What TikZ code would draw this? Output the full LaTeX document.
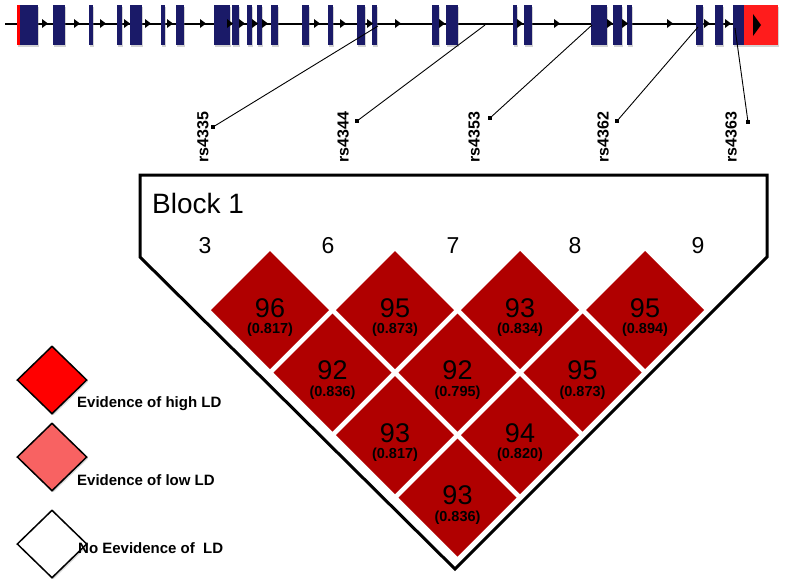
\documentclass[tikz,border=0pt]{standalone}
\usepackage{fontspec}
\setmainfont{Liberation Sans}
\usetikzlibrary{positioning}
\usetikzlibrary{shapes.geometric}
\usetikzlibrary{shadows}
\definecolor{exonblue}{RGB}{26,26,104}
\definecolor{utrred}{RGB}{255,28,28}
\definecolor{cellred}{RGB}{176,0,0}
\definecolor{lowred}{RGB}{248,98,98}
\tikzset{exon/.style = {fill=exonblue, drop shadow={shadow xshift=1pt, shadow yshift=-2pt, opacity=0.35}}}
\tikzset{snpdot/.style = {fill, rectangle, inner sep = 0, minimum size = 3.5}}
\tikzset{snpline/.style = {line width = 0.9}}
\tikzset{snplabel/.style = {rotate = 90, anchor = west, inner sep = 0, font = \bfseries\fontsize{16}{16}\selectfont}}
\tikzset{colnum/.style = {inner sep = 0, font = \fontsize{23}{23}\selectfont}}
\tikzset{ldnum/.style = {inner sep = 0, font = \fontsize{27}{27}\selectfont}}
\tikzset{ldrsq/.style = {inner sep = 0, font = \bfseries\fontsize{14.5}{14.5}\selectfont}}
\tikzset{legdiam/.style = {diamond, draw, line width = 1.5, inner sep = 0, minimum width = 70, minimum height = 68,
                           drop shadow={shadow xshift=1.5pt, shadow yshift=-1.5pt, opacity=0.3}}}
\tikzset{legtext/.style = {anchor = west, inner sep = 0, font = \bfseries\fontsize{15}{15}\selectfont}}

\begin{document}
\begin{tikzpicture}[x=1pt, y=-1pt]
      \useasboundingbox (0, 0) rectangle (786, 582);
      % gene
      \draw [line width = 2] (5, 23.5) -- (744, 23.5);
      \foreach \a/\b in {17/38, 53/65, 89/93, 117/122, 130/142, 161/165, 176/184, 214/230, 232/239, 247/252,
                         257/262, 271/278, 302/309, 328/333, 357/365, 372/377, 432/439, 446/458, 513/517, 524/532,
                         591/607, 613/622, 627/632, 696/703, 715/723, 733/744}
        \fill [exon] (\a, 5) rectangle (\b, 45);
      \fill [red] (17, 5) rectangle (20, 45);
      \fill [utrred, drop shadow={shadow xshift=1pt, shadow yshift=-2pt, opacity=0.35}] (744, 5) rectangle (778, 45);
      \fill (753, 14) -- (761, 25) -- (753, 36) -- cycle;
      \foreach \p in {45, 77, 103, 127, 148, 170, 203, 230, 242, 255, 265, 317, 343, 370,
                      398, 442, 520, 557, 610, 625, 670, 707, 728}
        \fill (\p - 3, 19) -- (\p + 3, 23.5) -- (\p - 3, 28) -- cycle;

      % snps
      \foreach \s/\gx/\gy/\dx/\dy/\lx in {4335/378/26/213/127/203, 4344/485/25/357/121/343, 4353/592/25/490/118/474,
                                          4362/698/27/617/121/603, 4363/735/28/748/122/731} {
        \coordinate (g\s) at (\gx, \gy);
        \node [snpdot] (d\s) at (\dx, \dy) {};
        \draw [snpline] (g\s) -- (d\s);
        \node [snplabel] (lab\s) at (\lx, 163) {rs\s};
      }

      % block
      \draw [line width = 3, line join = miter] (140, 175) -- (767, 175) -- (767, 257) -- (455, 569) -- (140, 257) -- cycle;
      \node [anchor = base west, inner sep = 0, font = \fontsize{28}{28}\selectfont] (block) at (152, 213) {Block 1};
      \foreach \n/\x in {3/205, 6/328, 7/453, 8/575, 9/698}
        \node [colnum] (c\n) at (\x, 246) {\n};

      % ld cells
      \foreach \i/\j/\num/\rsq in {0/0/96/0.817, 0/1/95/0.873, 0/2/93/0.834, 0/3/95/0.894, 1/0/92/0.836,
                                   1/1/92/0.795, 1/2/95/0.873, 2/0/93/0.817, 2/1/94/0.820, 3/0/93/0.836} {
        \pgfmathsetmacro\cx{270 + 125*\j + 62.5*\i}
        \pgfmathsetmacro\cy{310 + 62.5*\i}
        \fill [cellred] (\cx - 59, \cy) -- (\cx, \cy - 59) -- (\cx + 59, \cy) -- (\cx, \cy + 59) -- cycle;
        \node [ldnum] (n\i\j) at (\cx, \cy - 2) {\num};
        \node [ldrsq] (r\i\j) at (\cx, \cy + 20) {(\rsq)};
      }

      % legend
      \node [legdiam, fill = red] (high) at (52, 380) {};
      \node [legdiam, fill = lowred] (low) at (52, 457) {};
      \node [legdiam, fill = white] (none) at (52, 544) {};
      \node [legtext] (hightext) at (77, 404) {Evidence of high LD};
      \node [legtext] (lowtext) at (77, 480) {Evidence of low LD};
      \node [legtext] (nonetext) at (78, 548) {No Eevidence of\ \ LD};
    \end{tikzpicture}
\end{document}
